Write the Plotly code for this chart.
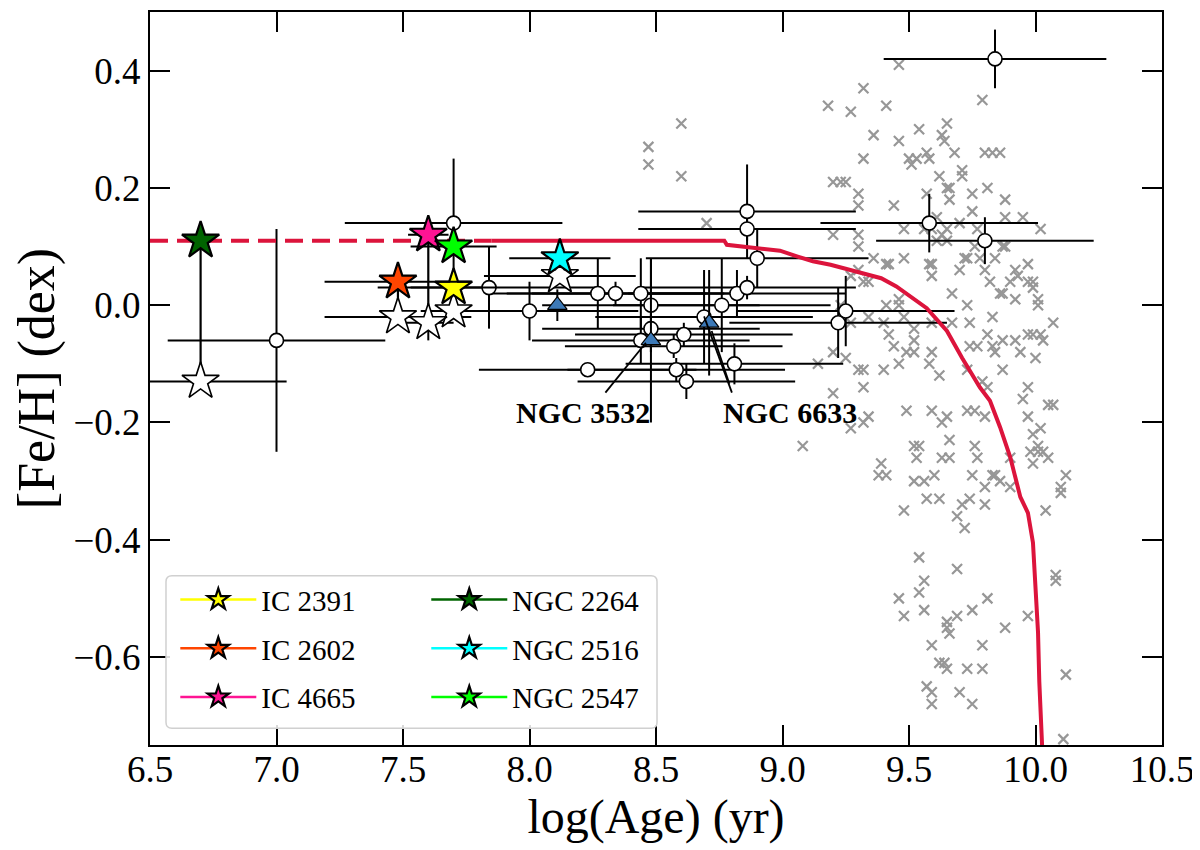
import plotly.graph_objects as go

# ---------------- data ----------------
# open circles (literature clusters)
circ_age = [7.00, 7.70, 7.84, 8.00, 8.27, 8.34, 8.44, 8.48, 8.48, 8.44, 8.61, 8.57, 8.23, 8.58,
            8.62, 8.69, 8.76, 8.82, 8.86, 8.81, 8.86, 8.86, 8.90, 9.25, 9.22, 9.84, 9.58, 9.80]
circ_feh = [-0.06, 0.14, 0.03, -0.01, 0.02, 0.02, 0.02, 0.00, -0.04, -0.06, -0.05, -0.07, -0.11, -0.11,
            -0.13, -0.02, 0.00, 0.02, 0.03, -0.10, 0.16, 0.13, 0.08, -0.01, -0.03, 0.42, 0.14, 0.11]
circ_age_err = [0.43, 0.43, 0.44, 0.43, 0.43, 0.43, 0.43, 0.43, 0.43, 0.43, 0.43, 0.43, 0.43, 0.43,
                0.43, 0.43, 0.43, 0.43, 0.43, 0.43, 0.43, 0.43, 0.44, 0.43, 0.43, 0.44, 0.43, 0.43]
circ_feh_err = [0.19, 0.11, 0.07, 0.05, 0.06, 0.02, 0.06, 0.08, 0.04, 0.04, 0.02, 0.02, 0.01, 0.02,
                0.03, 0.08, 0.08, 0.04, 0.02, 0.035, 0.08, 0.02, 0.05, 0.06, 0.06, 0.05, 0.05, 0.04]

# Gaia-ESO clusters (coloured stars = this work, white stars = previous values)
cl_names = ["IC 2391", "IC 2602", "IC 4665", "NGC 2264", "NGC 2516", "NGC 2547"]
cl_colors = ["#ffff00", "#ff4500", "#ff1493", "#006400", "#00ffff", "#00ff00"]
cl_age = [7.70, 7.48, 7.60, 6.70, 8.12, 7.70]
cl_feh = [0.03, 0.04, 0.12, 0.11, 0.08, 0.10]
cl_age_err = [0.17, 0.29, 0.08, 0.0, 0.20, 0.17]
old_age = [7.70, 7.48, 7.60, 6.70, 8.12]
old_feh = [-0.01, -0.02, -0.03, -0.13, 0.05]
old_age_err = [0.0, 0.29, 0.10, 0.34, 0.30]
old_feh_err = [0.0, 0.0, 0.03, 0.0, 0.0]

# blue triangles
tri_age = [8.11, 8.48, 8.71]
tri_feh = [0.00, -0.06, -0.03]
tri_feh_err = [0.027, 0.14, 0.09]

# grey crosses (field stars)
cross_age = [8.47, 8.47, 8.60, 8.60, 8.70,
             9.46, 9.32, 9.18, 9.27, 9.41, 9.79, 9.36, 9.46, 9.54, 9.65, 9.63, 9.64,
             9.32, 9.50, 9.53, 9.51, 9.57, 9.58, 9.68, 9.80, 9.83, 9.86,
             9.20, 9.23, 9.25, 9.62, 9.71, 9.71, 9.65, 9.66, 9.66, 9.57, 9.75, 9.81,
             9.30, 9.30, 9.44, 9.88, 9.75, 9.61, 9.88, 9.95, 9.70,
             9.20, 9.30, 9.30, 9.48, 9.56, 9.59, 9.63, 9.65, 9.61, 9.65, 9.77, 10.02,
             9.76, 9.87, 9.88,
             9.36, 9.48, 9.41, 9.42, 9.58, 9.59, 9.59, 9.70, 9.72, 9.73, 9.78, 9.84, 9.80, 9.92, 9.97,
             9.82, 9.90, 9.93, 9.97, 9.99, 9.99, 9.86, 9.87, 9.92, 10.01, 9.67, 9.46,
             9.32, 9.27, 9.30, 9.34,
             9.23, 9.41, 9.46, 9.73, 10.01,
             9.34, 9.48, 9.83, 9.40, 9.52, 9.59, 9.67, 9.74, 10.07, 9.27,
             9.42, 9.52, 9.81, 9.87, 9.92, 9.97, 9.99, 10.02, 10.03,
             9.44, 9.49, 9.52, 9.59, 9.74, 9.77, 9.83, 9.84, 9.94, 10.00,
             9.20, 9.25, 9.14, 9.30, 9.32,
             9.40, 9.46, 9.58, 9.62, 9.87, 9.73,
             9.32, 9.20, 9.79, 9.81, 9.97, 9.95, 10.05, 10.07,
             9.34, 9.32, 9.27, 9.08,
             9.49, 9.59, 9.65, 9.63, 9.73, 9.76, 9.80, 9.97,
             10.02, 9.99, 9.66, 9.52, 9.54, 9.76, 10.01, 9.98, 10.01, 10.03, 10.05, 9.99,
             9.53, 9.63, 9.66, 9.77, 9.90,
             9.39, 9.38, 9.41,
             9.52, 9.56, 9.60, 9.75, 9.83, 9.84, 9.86, 9.90, 9.80, 10.12, 10.10, 10.10,
             9.57, 9.62, 9.71, 9.74, 9.80, 10.04, 9.48, 9.69, 9.72,
             9.54, 9.69, 10.08, 10.08, 9.56, 9.54, 9.46, 9.56, 9.48, 9.65, 9.69, 9.75, 9.81, 9.65, 9.66, 9.97, 9.88,
             9.59, 9.79, 9.62, 9.64, 9.65, 9.73, 9.79, 10.12, 9.57, 9.59, 9.59, 9.70, 9.75, 10.11]
cross_feh = [0.27, 0.24, 0.31, 0.22, 0.14,
             0.41, 0.37, 0.34, 0.33, 0.34, 0.35, 0.29, 0.28, 0.30, 0.31, 0.29, 0.28,
             0.25, 0.25, 0.25, 0.24, 0.26, 0.25, 0.26, 0.26, 0.26, 0.26,
             0.21, 0.21, 0.21, 0.22, 0.23, 0.22, 0.20, 0.20, 0.18, 0.19, 0.19, 0.20,
             0.19, 0.17, 0.17, 0.18, 0.16, 0.15, 0.15, 0.15, 0.14,
             0.12, 0.12, 0.10, 0.13, 0.13, 0.13, 0.12, 0.13, 0.11, 0.11, 0.13, 0.13,
             0.10, 0.10, 0.10,
             0.08, 0.08, 0.07, 0.07, 0.07, 0.07, 0.05, 0.06, 0.08, 0.08, 0.08, 0.08, 0.06, 0.06, 0.07,
             0.04, 0.04, 0.05, 0.04, 0.04, 0.03, 0.02, 0.02, 0.01, 0.01, 0.02, 0.01,
             0.04, 0.05, 0.06, 0.04,
             0.00, 0.00, 0.00, 0.00, 0.00,
             -0.02, -0.02, -0.02, -0.03, -0.04, -0.03, -0.03, -0.03, -0.03, -0.03,
             -0.05, -0.06, -0.05, -0.06, -0.06, -0.05, -0.05, -0.05, -0.06,
             -0.07, -0.08, -0.08, -0.08, -0.07, -0.07, -0.07, -0.08, -0.08, -0.09,
             -0.08, -0.09, -0.10, -0.11, -0.11,
             -0.11, -0.10, -0.10, -0.12, -0.11, -0.11,
             -0.14, -0.15, -0.13, -0.14, -0.14, -0.16, -0.17, -0.17,
             -0.19, -0.20, -0.21, -0.24,
             -0.18, -0.18, -0.19, -0.20, -0.18, -0.18, -0.19, -0.19,
             -0.21, -0.22, -0.23, -0.24, -0.24, -0.24, -0.24, -0.25, -0.25, -0.25, -0.26, -0.27,
             -0.26, -0.26, -0.26, -0.26, -0.26,
             -0.27, -0.29, -0.29,
             -0.30, -0.30, -0.29, -0.29, -0.29, -0.29, -0.30, -0.31, -0.31, -0.29, -0.31, -0.32,
             -0.33, -0.33, -0.34, -0.33, -0.34, -0.35, -0.35, -0.36, -0.38,
             -0.43, -0.45, -0.46, -0.47, -0.47, -0.49, -0.50, -0.52, -0.53, -0.54, -0.53, -0.52, -0.50, -0.55, -0.56, -0.53, -0.55,
             -0.58, -0.58, -0.61, -0.61, -0.62, -0.62, -0.62, -0.63, -0.65, -0.66, -0.68, -0.66, -0.68, -0.74]

# chemical evolution model (red curve)
model_dash_age = [6.5, 7.85]
model_dash_feh = [0.11, 0.11]
model_age = [7.85, 8.77, 8.78, 8.90, 8.99, 9.06, 9.12, 9.19, 9.26, 9.32, 9.39, 9.45, 9.52, 9.57,
             9.65, 9.71, 9.78, 9.82, 9.86, 9.90, 9.94, 9.97, 9.99, 10.00, 10.01, 10.015, 10.026]
model_feh = [0.11, 0.11, 0.103, 0.097, 0.093, 0.083, 0.075, 0.069, 0.061, 0.054, 0.046, 0.032, 0.010, -0.005,
             -0.044, -0.090, -0.140, -0.163, -0.208, -0.259, -0.327, -0.354, -0.405, -0.473, -0.558, -0.642, -0.75]

# annotation labels and pointer lines
ann_text = ["NGC 3532", "NGC 6633"]
ann_x = [8.21, 9.03]
ann_y = [-0.183, -0.183]
ptr_x0 = [8.30, 8.80, 8.79]
ptr_y0 = [-0.149, -0.149, -0.134]
ptr_x1 = [8.46, 8.69, 8.72]
ptr_y1 = [-0.064, -0.019, -0.044]

x_ticks = [6.5, 7.0, 7.5, 8.0, 8.5, 9.0, 9.5, 10.0, 10.5]
y_ticks = [-0.6, -0.4, -0.2, 0.0, 0.2, 0.4]

FONT = "Liberation Serif"

fig = go.Figure()

fig.add_trace(go.Scatter(
    x=cross_age, y=cross_feh, mode="markers", showlegend=False, hoverinfo="skip",
    marker=dict(symbol="x-thin", size=10, line=dict(width=2.2, color="#979797"))))

fig.add_trace(go.Scatter(
    x=circ_age, y=circ_feh, mode="markers", showlegend=False,
    error_x=dict(type="data", array=circ_age_err, color="black", thickness=2, width=0),
    error_y=dict(type="data", array=circ_feh_err, color="black", thickness=2, width=0),
    marker=dict(symbol="circle", size=14, color="white", line=dict(width=1.6, color="black"))))

fig.add_trace(go.Scatter(
    x=model_dash_age, y=model_dash_feh, mode="lines", showlegend=False,
    line=dict(color="#dc143c", width=4, dash="18px,9px")))
fig.add_trace(go.Scatter(
    x=model_age, y=model_feh, mode="lines", showlegend=False,
    line=dict(color="#dc143c", width=4)))

# vertical connectors between new and old values
con_x, con_y = [], []
for a, f_new, f_old in zip(old_age, cl_feh, old_feh):
    con_x += [a, a, None]
    con_y += [f_new, f_old, None]
fig.add_trace(go.Scatter(x=con_x, y=con_y, mode="lines", showlegend=False,
                         line=dict(color="black", width=2.2), hoverinfo="skip"))

fig.add_trace(go.Scatter(
    x=old_age, y=old_feh, mode="markers", showlegend=False,
    error_x=dict(type="data", array=old_age_err, color="black", thickness=2, width=0),
    error_y=dict(type="data", array=old_feh_err, color="black", thickness=2, width=0),
    marker=dict(symbol="star", size=28, color="white", line=dict(width=1.6, color="black"))))

for i, (nm, col, a, f, e) in enumerate(zip(cl_names, cl_colors, cl_age, cl_feh, cl_age_err)):
    fig.add_trace(go.Scatter(
        x=[a], y=[f], mode="lines+markers", name=nm, legendgroup=nm,
        legend="legend" if i < 3 else "legend2",
        error_x=dict(type="data", array=[e], color="black", thickness=2, width=0),
        line=dict(color=col, width=2.5),
        marker=dict(symbol="star", size=28, color=col, line=dict(width=2.2, color="black"))))

fig.add_trace(go.Scatter(
    x=tri_age, y=tri_feh, mode="markers", showlegend=False,
    error_y=dict(type="data", array=tri_feh_err, color="black", thickness=2, width=0),
    marker=dict(symbol="triangle-up", size=17, color="#3d7ab8", line=dict(width=1.2, color="black"))))

shapes = []
for x0, y0, x1, y1 in zip(ptr_x0, ptr_y0, ptr_x1, ptr_y1):
    shapes.append(dict(type="line", xref="x", yref="y", x0=x0, y0=y0, x1=x1, y1=y1,
                       line=dict(color="black", width=1.8)))

# legend frame (rounded box enclosing both legend columns)
bx0, bx1, by0, by1 = 0.0158, 0.501, 0.023, 0.231
rx, ry = 6 / 1012, 6 / 735
path = (f"M{bx0+rx},{by0} L{bx1-rx},{by0} Q{bx1},{by0} {bx1},{by0+ry} "
        f"L{bx1},{by1-ry} Q{bx1},{by1} {bx1-rx},{by1} L{bx0+rx},{by1} "
        f"Q{bx0},{by1} {bx0},{by1-ry} L{bx0},{by0+ry} Q{bx0},{by0} {bx0+rx},{by0} Z")
shapes.append(dict(type="path", xref="paper", yref="paper", path=path,
                   fillcolor="rgba(255,255,255,0.85)", line=dict(color="#d0d0d0", width=1.5),
                   layer="above"))

annotations = []
for t, x, y in zip(ann_text, ann_x, ann_y):
    annotations.append(dict(x=x, y=y, xref="x", yref="y", text=f"<b>{t}</b>", showarrow=False,
                            font=dict(family=FONT, size=30, color="black")))

axis_common = dict(showgrid=False, zeroline=False, showline=True, linewidth=2, linecolor="black",
                   mirror="ticks", ticks="inside", ticklen=20, tickwidth=1.5, tickcolor="black",
                   tickfont=dict(family=FONT, size=37, color="black"))

fig.update_layout(
    width=1192, height=842,
    margin=dict(l=142, r=38, t=2, b=105),
    paper_bgcolor="white", plot_bgcolor="white",
    shapes=shapes, annotations=annotations,
    xaxis=dict(range=[6.5, 10.5], tickmode="array", tickvals=x_ticks,
               ticktext=[f"{v:.1f}" for v in x_ticks], ticklabelstandoff=-9,
               title=dict(text="log(Age) (yr)", font=dict(family=FONT, size=48, color="black"), standoff=4),
               **axis_common),
    yaxis=dict(range=[-0.75, 0.5], tickmode="array", tickvals=y_ticks,
               ticktext=[(f"{v:.1f}" if v >= 0 else "\u2212" + f"{-v:.1f}") for v in y_ticks],
               title=dict(text="[Fe/H] (dex)", font=dict(family=FONT, size=52, color="black"), standoff=20),
               **axis_common),
    legend=dict(x=0.025, y=0.233, xanchor="left", yanchor="top", bgcolor="rgba(0,0,0,0)",
                borderwidth=0, itemwidth=76, tracegroupgap=8,
                font=dict(family=FONT, size=29, color="black")),
    legend2=dict(x=0.273, y=0.233, xanchor="left", yanchor="top", bgcolor="rgba(0,0,0,0)",
                 borderwidth=0, itemwidth=76, tracegroupgap=8,
                 font=dict(family=FONT, size=29, color="black")),
)

fig.write_html("out.html")
